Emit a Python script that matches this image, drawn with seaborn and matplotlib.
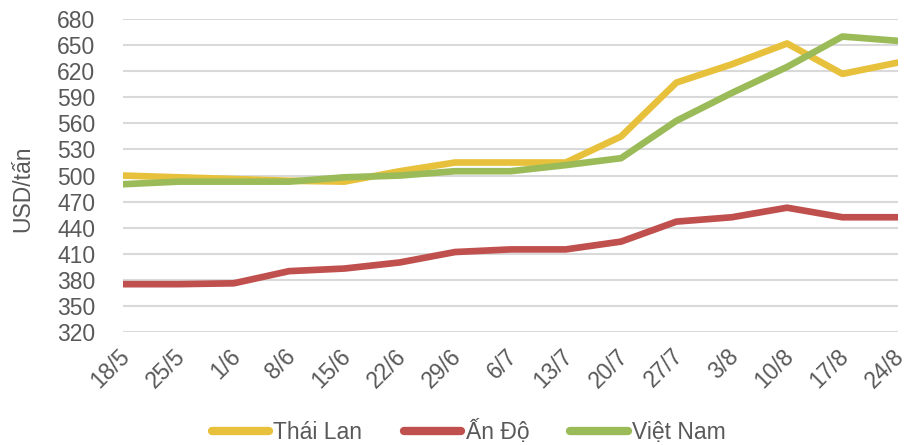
import numpy as np
import pandas as pd
import matplotlib
matplotlib.use("Agg")
import matplotlib.pyplot as plt
import matplotlib.transforms as mtransforms
import seaborn as sns

dates = ["18/5", "25/5", "1/6", "8/6", "15/6", "22/6", "29/6", "6/7", "13/7",
         "20/7", "27/7", "3/8", "10/8", "17/8", "24/8"]
thai_lan = [500, 498, 496, 494, 493, 505, 515, 515, 515, 545, 607, 628, 652, 617, 630]
an_do = [375, 375, 376, 390, 393, 400, 412, 415, 415, 424, 447, 452, 463, 452, 452]
viet_nam = [490, 493, 493, 493, 498, 500, 505, 505, 512, 520, 563, 595, 625, 660, 655]
series_names = ["Thái Lan", "Ấn Độ", "Việt Nam"]
colors = ["#E8C13C", "#C0504D", "#9BBB59"]
y_ticks = list(range(320, 681, 30))

rows = []
for name, vals in zip(series_names, [thai_lan, an_do, viet_nam]):
    for i, v in enumerate(vals):
        rows.append({"idx": i, "price": v, "country": name})
df = pd.DataFrame(rows)

sns.set_style("white")
plt.rcParams["font.family"] = ["Liberation Sans", "DejaVu Sans"]
text_color = "#595959"
fs = 16.5

fig = plt.figure(figsize=(9.05, 4.45), dpi=100)
ax = fig.add_axes([0.136, 0.254, 0.856, 0.703])

sns.lineplot(data=df, x="idx", y="price", hue="country", hue_order=series_names,
             palette=colors, linewidth=4.8, ax=ax, solid_capstyle="round",
             legend=True)

ax.set_xlim(0, len(dates) - 1)
ax.set_ylim(320, 680)
ax.set_yticks(y_ticks)
ax.set_xticks(range(len(dates)))
ax.set_xticklabels(dates, rotation=45, ha="right", va="top", rotation_mode="anchor")
ax.tick_params(axis="both", length=0, labelsize=fs, colors=text_color)
ax.tick_params(axis="x", pad=9)
ax.tick_params(axis="y", pad=20)
offset = mtransforms.ScaledTranslation(-5 / 100, 0, fig.dpi_scale_trans)
for lbl in ax.get_xticklabels():
    lbl.set_transform(lbl.get_transform() + offset)
ax.yaxis.grid(True, color="#D9D9D9", linewidth=1.5)
ax.set_axisbelow(True)
for s in ax.spines.values():
    s.set_visible(False)
ax.set_xlabel("")
ax.set_ylabel("USD/tấn", fontsize=fs, color=text_color, va="center")
ax.yaxis.set_label_coords(-0.130, 0.457)

handles, labels = ax.get_legend_handles_labels()
ax.get_legend().remove()
for h in handles:
    h.set_linewidth(6)
    h.set_solid_capstyle("round")
fig.legend(handles, labels, loc="center", bbox_to_anchor=(0.518, 0.029),
           ncol=3, frameon=False, fontsize=fs, handlelength=2.5, columnspacing=1.8,
           handletextpad=0.2, labelcolor=text_color, borderpad=0)

fig.savefig("out.png", dpi=100)
